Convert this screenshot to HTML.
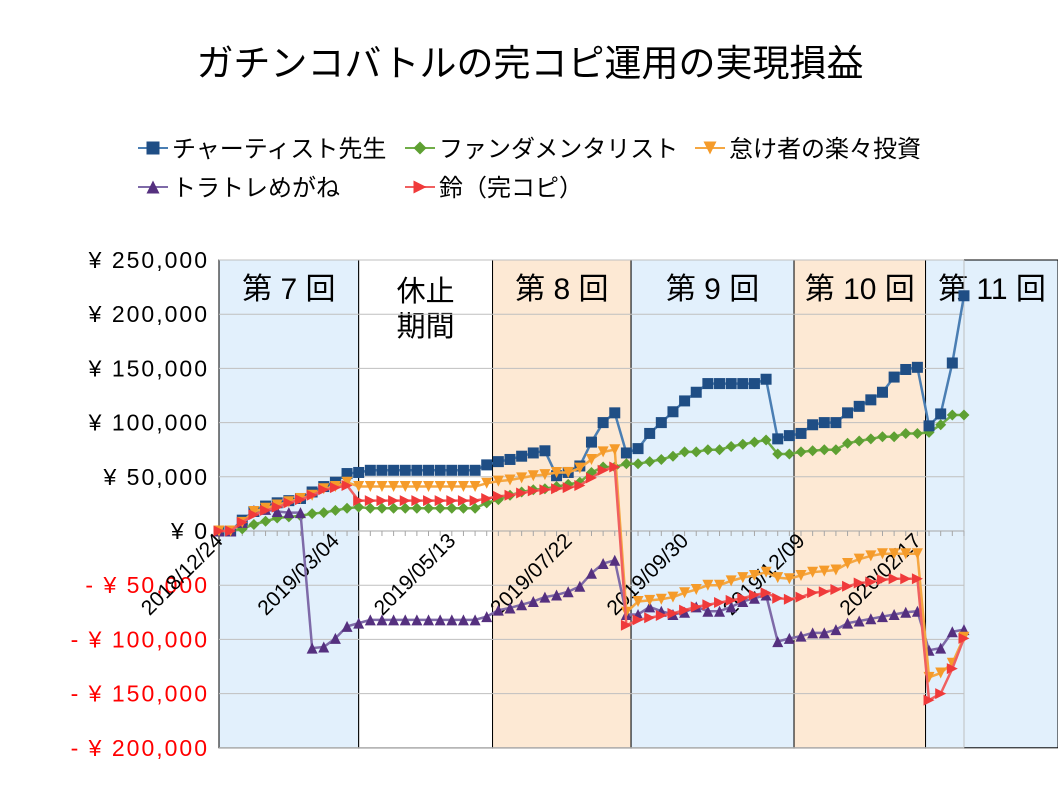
<!DOCTYPE html>
<html><head><meta charset="utf-8"><style>
html,body{margin:0;padding:0;background:#fff;}
body{width:1058px;height:794px;overflow:hidden;font-family:"Liberation Sans","Noto Sans CJK JP",sans-serif;}
</style></head><body>
<svg id="chart" width="1058" height="794" xmlns="http://www.w3.org/2000/svg" style="font-family:'Liberation Sans','Noto Sans CJK JP',sans-serif">
<text x="530" y="76" font-size="37" text-anchor="middle">ガチンコバトルの完コピ運用の実現損益</text>
<g id="regions"></g>
<g id="grid"></g>
<g id="axes"></g>
<g id="series"></g>
<g id="legend"></g>
</svg>
<script>
const xLabels=["2018/12/24","2019/03/04","2019/05/13","2019/07/22","2019/09/30","2019/12/09","2020/02/17"];
const xLabelIdx=[0,10,20,30,40,50,60];
const yTicks=[250000,200000,150000,100000,50000,0,-50000,-100000,-150000,-200000];
const yTickLabels=["¥ 250,000","¥ 200,000","¥ 150,000","¥ 100,000","¥ 50,000","¥ 0","- ¥ 50,000","- ¥ 100,000","- ¥ 150,000","- ¥ 200,000"];
const seriesNames=["チャーティスト先生","ファンダメンタリスト","怠け者の楽々投資","トラトレめがね","鈴（完コピ）"];
const chartist=[0,0,10000,18000,23000,26000,28000,30000,36000,41000,45000,53000,54000,56000,56000,56000,56000,56000,56000,56000,56000,56000,56000,61000,64000,66000,69000,72000,74000,51000,54000,60000,82000,100000,109000,72000,76000,90000,100000,110000,120000,128000,136000,136000,136000,136000,136000,140000,85000,88000,90000,98000,100000,100000,109000,115000,121000,128000,142000,149000,151000,97000,108000,155000,217000];
const fundamental=[0,0,2000,6000,9000,12000,13000,14000,16000,17000,19000,21000,22000,21000,21000,21000,21000,21000,21000,21000,21000,21000,21000,26000,29000,33000,36000,38000,39000,41000,43000,45000,54000,59000,59000,62000,62000,64000,66000,69000,73000,73000,75000,75000,78000,80000,82000,84000,71000,71000,73000,74000,75000,75000,81000,83000,85000,87000,87000,90000,90000,91000,98000,107000,107000];
const lazy=[0,0,8000,18000,21000,24000,27000,30000,33000,39000,41000,45000,41000,41000,41000,41000,41000,41000,41000,41000,41000,41000,41000,44000,46000,47000,49000,51000,52000,54000,54000,58000,66000,73000,75000,-75000,-65000,-64000,-63000,-61000,-57000,-54000,-50000,-50000,-46000,-43000,-41000,-38000,-43000,-44000,-41000,-38000,-37000,-36000,-30000,-26000,-23000,-21000,-21000,-21000,-21000,-135000,-131000,-122000,-98000];
const toratore=[0,0,8000,19000,20000,18000,17000,17000,-108000,-107000,-99000,-88000,-85000,-82000,-82000,-82000,-82000,-82000,-82000,-82000,-82000,-82000,-82000,-79000,-73000,-71000,-68000,-65000,-61000,-59000,-56000,-51000,-39000,-30000,-27000,-77000,-77000,-70000,-74000,-77000,-75000,-70000,-74000,-74000,-70000,-65000,-62000,-59000,-102000,-99000,-97000,-94000,-94000,-91000,-85000,-83000,-81000,-79000,-77000,-75000,-74000,-110000,-108000,-93000,-91000];
const suzu=[0,0,8000,15000,19000,22000,26000,29000,33000,38000,40000,42000,28000,28000,28000,28000,28000,28000,28000,28000,28000,28000,28000,30000,32000,33000,35000,37000,38000,39000,40000,42000,49000,56000,59000,-87000,-82000,-80000,-78000,-76000,-73000,-70000,-68000,-66000,-64000,-62000,-59000,-57000,-62000,-63000,-61000,-57000,-56000,-54000,-51000,-48000,-47000,-45000,-44000,-44000,-44000,-156000,-150000,-127000,-99000];
const regionNames=["第 7 回","休止","第 8 回","第 9 回","第 10 回","第 11 回"];
const regionStart=[0,12,23.5,35.4,49.4,60.7];

const NS="http://www.w3.org/2000/svg";
const X0=219,DX=11.64,Y0=531,PPV=271/250000,PLOT_R=964;
const xs=i=>X0+i*DX, ys=v=>Y0-v*PPV;
function mk(tag,attrs,parent){const e=document.createElementNS(NS,tag);for(const k in attrs)e.setAttribute(k,attrs[k]);parent.appendChild(e);return e;}
const TOPY=ys(250000),BOTY=ys(-200000);
// regions
const rg=document.getElementById('regions');
const fills=["#e2f0fc","#ffffff","#fde9d4","#e2f0fc","#fde9d4","#e2f0fc"];
for(let r=0;r<regionStart.length;r++){
  const x1=xs(regionStart[r]);const x2=r<regionStart.length-1?xs(regionStart[r+1]):1058;
  const rect=mk('rect',{x:x1,y:TOPY,width:x2-x1,height:BOTY-TOPY,fill:fills[r],stroke:"#000","stroke-width":1},rg);
  
  
  const cx=r==5?992:(x1+x2)/2;
  if(regionNames[r]==="休止"){
    const t1=mk('text',{x:cx,y:301,"font-size":29,"text-anchor":"middle"},rg);t1.textContent="休止";
    
    
    const t2=mk('text',{x:cx,y:336,"font-size":29,"text-anchor":"middle"},rg);t2.textContent="期間";
    
    
  } else {
    const t=mk('text',{x:cx,y:299,"font-size":30,"text-anchor":"middle"},rg);t.textContent=regionNames[r];
    
    
  }
}
// grid
const gg=document.getElementById('grid');
yTicks.forEach(v=>{const l=mk('line',{x1:X0,x2:PLOT_R,y1:ys(v),y2:ys(v),stroke:"#bfbfbf","stroke-width":1},gg);
  
  });
mk('line',{x1:PLOT_R,x2:PLOT_R,y1:TOPY,y2:BOTY,stroke:"#bfbfbf"},gg);
// axes
const ag=document.getElementById('axes');
mk('line',{x1:X0,x2:PLOT_R,y1:Y0,y2:Y0,stroke:"#a6a6a6","stroke-width":1},ag);
for(let i=0;i<chartist.length;i++){const t=mk('line',{x1:xs(i),x2:xs(i),y1:Y0,y2:Y0+5,stroke:"#a6a6a6"},ag);
  
  }
yTicks.forEach((v,k)=>{const t=mk('text',{x:209,y:ys(v)+8,"font-size":23,"letter-spacing":"2","text-anchor":"end",fill:v<0?"#ff0000":"#000"},ag);t.textContent=yTickLabels[k];
  
  });
xLabels.forEach((s,k)=>{const x=xs(xLabelIdx[k])+5,y=542;const t=mk('text',{x:x,y:y,"font-size":21,"text-anchor":"end",transform:`rotate(-45 ${x} ${y})`},ag);t.textContent=s;
  
  });
// series
const sg=document.getElementById('series');
const defs=[
 {d:chartist,line:"#4a7eb3",fill:"#1f4e85",m:"sq"},
 {d:fundamental,line:"#70ad47",fill:"#5ea032",m:"di"},
 {d:lazy,line:"#f5a742",fill:"#f59b2a",m:"dn"},
 {d:toratore,line:"#7e6aa8",fill:"#55307f",m:"up"},
 {d:suzu,line:"#f06060",fill:"#f03a3a",m:"rt"}];
function marker(type,x,y,fill,parent,s){
  s=s||5.5;
  if(type=="sq")return mk('rect',{x:x-s,y:y-s,width:2*s,height:2*s,fill:fill},parent);
  if(type=="di")return mk('polygon',{points:`${x},${y-s} ${x+s},${y} ${x},${y+s} ${x-s},${y}`,fill:fill},parent);
  if(type=="dn")return mk('polygon',{points:`${x-s},${y-s} ${x+s},${y-s} ${x},${y+s}`,fill:fill},parent);
  if(type=="up")return mk('polygon',{points:`${x-s},${y+s} ${x+s},${y+s} ${x},${y-s}`,fill:fill},parent);
  return mk('polygon',{points:`${x-s},${y-s} ${x+s},${y} ${x-s},${y+s}`,fill:fill},parent);
}
const order=[1,0,3,2,4];
order.forEach(k=>{const sd=defs[k];
  const pts=sd.d.map((v,i)=>xs(i)+","+ys(v)).join(" ");
  const pl=mk('polyline',{points:pts,fill:"none",stroke:sd.line,"stroke-width":2.5},sg);
  
  
  sd.d.forEach((v,i)=>{const m=marker(sd.m,xs(i),ys(v),sd.fill,sg);
    
    });
});
// legend
const lg=document.getElementById('legend');
const lpos=[[138,148],[405,148],[695,148],[138,187],[405,187]];
defs.forEach((sd,k)=>{const [x,y]=lpos[k];
  const g=mk('g',{},lg);
  
  
  mk('line',{x1:x,x2:x+30,y1:y,y2:y,stroke:sd.line,"stroke-width":2},g);
  marker(sd.m,x+15,y,sd.fill,g,6.5);
  const t=mk('text',{x:x+34,y:y+9,"font-size":24},g);t.textContent=seriesNames[k];
});
</script>
</body></html>
